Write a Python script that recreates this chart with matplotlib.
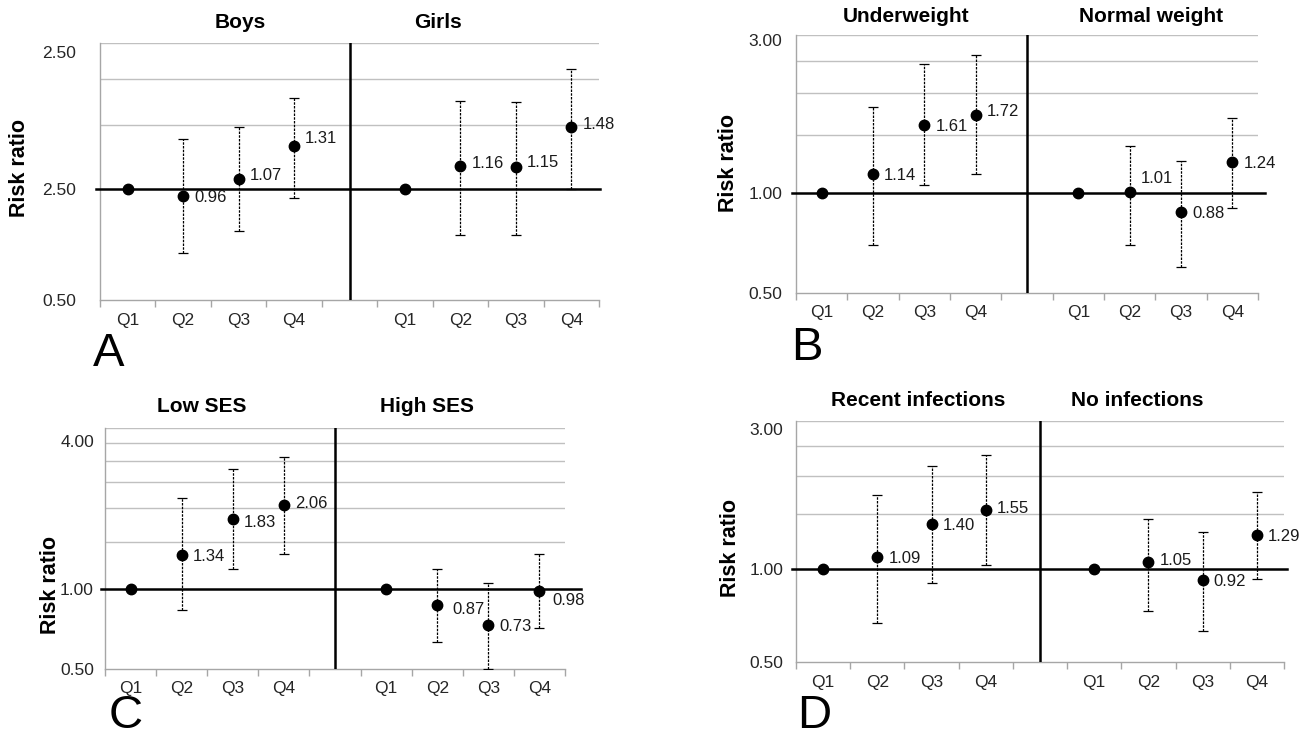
import matplotlib.pyplot as plt
import numpy as np

plt.rcParams['font.family'] = ['Liberation Sans', 'DejaVu Sans']

nan = np.nan
quartiles = ['Q1', 'Q2', 'Q3', 'Q4', '', 'Q1', 'Q2', 'Q3', 'Q4']

# A - sex
a_groups = ['Boys', 'Girls']
a_rr = [1.00, 0.96, 1.07, 1.31, 1.00, 1.16, 1.15, 1.48]
a_lo = [nan, 0.67, 0.77, 0.95, nan, 0.75, 0.75, 1.00]
a_hi = [nan, 1.37, 1.48, 1.77, nan, 1.74, 1.73, 2.13]
a_ylim = 2.5
a_yticklabels = ['0.50', '2.50', '2.50']

# B - weight
b_groups = ['Underweight', 'Normal weight']
b_rr = [1.00, 1.14, 1.61, 1.72, 1.00, 1.01, 0.88, 1.24]
b_lo = [nan, 0.70, 1.06, 1.14, nan, 0.70, 0.60, 0.90]
b_hi = [nan, 1.82, 2.46, 2.61, nan, 1.39, 1.25, 1.68]
b_ylim = 3.0
b_yticklabels = ['0.50', '1.00', '3.00']

# C - SES
c_groups = ['Low SES', 'High SES']
c_rr = [1.00, 1.34, 1.83, 2.06, 1.00, 0.87, 0.73, 0.98]
c_lo = [nan, 0.83, 1.18, 1.35, nan, 0.63, 0.50, 0.71]
c_hi = [nan, 2.18, 2.82, 3.11, nan, 1.18, 1.05, 1.35]
c_ylim = 4.0
c_yticklabels = ['0.50', '1.00', '4.00']

# D - infections
d_groups = ['Recent infections', 'No infections']
d_rr = [1.00, 1.09, 1.40, 1.55, 1.00, 1.05, 0.92, 1.29]
d_lo = [nan, 0.67, 0.90, 1.03, nan, 0.73, 0.63, 0.93]
d_hi = [nan, 1.73, 2.14, 2.33, nan, 1.45, 1.31, 1.77]
d_ylim = 3.0
d_yticklabels = ['0.50', '1.00', '3.00']

W, H = 1312, 739
fig = plt.figure(figsize=(W / 100, H / 100), dpi=100)
GRAY = '#a6a6a6'
TXT = '#262626'


def ftext(x, y, s, **kw):
    fig.text(x / W, 1 - y / H, s, ha='center', va='center', **kw)


def panel(box, rr, lo, hi, ylim, yticklabels, groups, layout):
    x0, y0, x1, y1 = box
    ax = fig.add_axes([x0 / W, 1 - y1 / H, (x1 - x0) / W, (y1 - y0) / H])
    xs = [i for i, q in enumerate(quartiles) if q]
    rr = np.array(rr)
    lo = np.array(lo)
    hi = np.array(hi)

    ax.set_yscale('log')
    ax.set_ylim(0.5, ylim)
    ax.set_xlim(-0.5, len(quartiles) - 0.5)

    grid = np.arange(1.5, ylim + 0.01, 0.5)
    ax.hlines(grid, -0.5, len(quartiles) - 0.5, color='#c0c0c0', lw=1, zorder=0)

    ax.axhline(1.0, xmin=-0.008, xmax=1 + layout['ext'], color='black', lw=1.8,
               clip_on=False, zorder=3)
    ax.axvline(4, color='black', lw=1.8, zorder=3)

    has_ci = ~np.isnan(lo)
    xe = np.array(xs)[has_ci]
    eb = ax.errorbar(xe, rr[has_ci], yerr=[rr[has_ci] - lo[has_ci], hi[has_ci] - rr[has_ci]],
                     fmt='none', ecolor='black', elinewidth=0.9, capsize=3.5,
                     capthick=0.9, zorder=4)
    eb[2][0].set_linestyle((0, (2.0, 1.0)))
    ax.plot(xs, rr, 'o', color='black', ms=7.5, zorder=5)

    for i, (x, v) in enumerate(zip(xs, rr)):
        if not has_ci[i]:
            continue
        ax.annotate(f'{v:.2f}', (x, v), xytext=(layout['dx'][i], layout['dy'][i]),
                    textcoords='offset pixels', ha='left', va='center_baseline',
                    fontsize=12, color='#1a1a1a', zorder=6)

    for s in ['top', 'right']:
        ax.spines[s].set_visible(False)
    for s in ['left', 'bottom']:
        ax.spines[s].set_color(GRAY)
        ax.spines[s].set_linewidth(1)

    ax.set_xticks(range(len(quartiles)), quartiles)
    ax.set_xticks(np.arange(-0.5, len(quartiles)), minor=True)
    ax.tick_params(axis='x', which='major', length=0, pad=9, labelsize=12.5, labelcolor=TXT)
    ax.tick_params(axis='x', which='minor', length=5, color=GRAY, width=1, direction='out')

    # Excel-style labels: the top one sits a little below the top gridline
    ax.set_yticks([0.5, 1.0], yticklabels[:2])
    ax.set_yticks([], minor=True)
    ax.tick_params(axis='y', length=0, pad=layout['ypad'], labelsize=12.5, labelcolor=TXT)
    ax.annotate(yticklabels[2], (0, ylim), xycoords=ax.get_yaxis_transform(),
                xytext=(-layout['ypad'] * 100 / 72, -layout['topdrop']),
                textcoords='offset pixels', ha='right', va='center_baseline',
                fontsize=12.5, color=TXT)

    for g, tx in zip(groups, layout['title_x']):
        ftext(tx, layout['title_y'], g, fontsize=15, fontweight='bold')
    rx, ry = layout['ylabel']
    ftext(rx, ry, 'Risk ratio', fontsize=15.5, fontweight='bold', rotation=90)
    lx, ly = layout['letter_xy']
    ftext(lx, ly, layout['letter'], fontsize=34)
    return ax


lay_a = dict(ext=0.002, ypad=17, topdrop=9, title_y=22, title_x=[240, 438],
             ylabel=(20, 168), letter='A', letter_xy=(109, 354),
             dx=[11] * 8, dy=[0, 0, 5, 9, 0, 4, 6, 4])
lay_b = dict(ext=0.015, ypad=10, topdrop=5, title_y=16, title_x=[906, 1151],
             ylabel=(728, 163), letter='B', letter_xy=(807, 348),
             dx=[11] * 8, dy=[0, 0, 0, 5, 0, 15, 0, 0])
lay_c = dict(ext=0.035, ypad=8, topdrop=13, title_y=406, title_x=[202, 427],
             ylabel=(50, 585), letter='C', letter_xy=(126, 716),
             dx=[11, 11, 11, 11, 11, 15, 11, 13], dy=[0, 0, -2, 3, 0, -3, 0, -8])
lay_d = dict(ext=0.006, ypad=9, topdrop=8, title_y=401, title_x=[918, 1137],
             ylabel=(731, 548), letter='D', letter_xy=(814, 716),
             dx=[11] * 8, dy=[0, 0, 0, 3, 0, 3, 0, 0])

panel((100, 43, 599, 300), a_rr, a_lo, a_hi, a_ylim, a_yticklabels, a_groups, lay_a)
panel((796, 35, 1258, 293), b_rr, b_lo, b_hi, b_ylim, b_yticklabels, b_groups, lay_b)
panel((105, 428, 565, 669), c_rr, c_lo, c_hi, c_ylim, c_yticklabels, c_groups, lay_c)
panel((796, 421, 1284, 662), d_rr, d_lo, d_hi, d_ylim, d_yticklabels, d_groups, lay_d)

fig.savefig('out.png', dpi=100)
